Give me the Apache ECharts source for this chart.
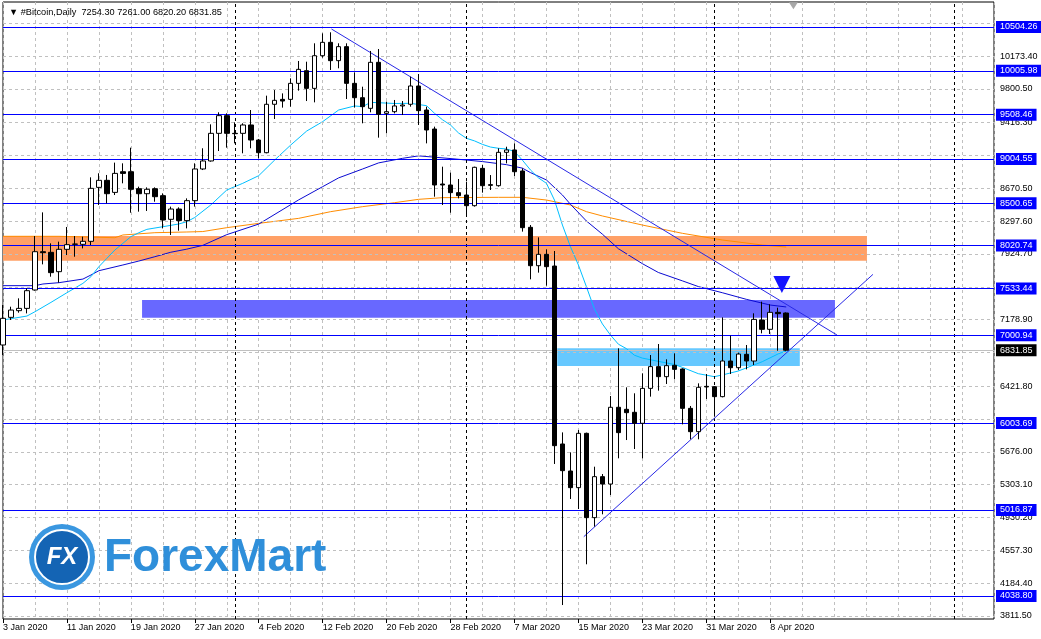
<!DOCTYPE html>
<html><head><meta charset="utf-8">
<script src="https://cdn.jsdelivr.net/npm/echarts@6/dist/echarts.min.js"></script>
<style>html,body{margin:0;padding:0;background:#fff;}#c{width:1041px;height:639px;}</style>
</head><body><div id="c"></div>
<script>
// ---- data ----
const MONTHS = ['Jan','Feb','Mar','Apr','May','Jun','Jul','Aug','Sep','Oct','Nov','Dec'];
const categories = [];
for (let k = 0; k < 125; k++) {
  const d = new Date(Date.UTC(2020, 0, 3 + k));
  categories.push(d.getUTCDate() + ' ' + MONTHS[d.getUTCMonth()] + ' ' + d.getUTCFullYear());
}
const openP  = [6891,7205,7281,7307,7516,7951,7944,7724,7978,8035,8035,8069,8682,8762,8625,8860,8860,8667,8610,8667,
  8588,8319,8436,8304,8531,8891,8982,9296,9497,9296,9296,9391,9220,9076,9626,9682,9682,9864,10008,9807,
  10178,10330,10122,10281,9864,9701,9580,10103,9523,9542,9607,9626,9834,9561,9345,8720,8709,8622,8595,8474,
  8898,8713,8701,9080,9107,8868,8228,7792,7921,7788,5766,5459,5270,5887,4929,5395,5311,6183,6160,6126,
  6001,6398,6645,6531,6660,6618,6171,5906,6421,6417,6304,6709,6633,6785,6709,7175,7069,7262,7254.30];
const highP  = [7345,7326,7421,7535,8129,8398,8046,8065,8232,8129,8122,8796,8842,8823,8963,8955,9133,8690,8682,8682,
  8614,8463,8455,8557,8955,9126,9398,9535,9523,9421,9410,9561,9232,9724,9788,9750,9921,10118,10110,10319,
  10432,10444,10319,10319,9989,9826,10232,10254,9656,9675,9663,9940,9970,9599,9372,8917,8849,8777,8747,8917,
  8936,8822,9126,9144,9182,8898,8254,8114,7978,7959,5898,5671,5925,5895,5508,5425,6311,6853,6410,6342,
  6569,6777,6902,6728,6796,6626,6198,6455,6561,6425,7205,6997,6804,6891,7251,7383,7353,7315,7261.00];
const lowP   = [6777,7175,7258,7250,7508,7807,7667,7599,7913,7894,7989,8027,8482,8501,8595,8728,8394,8406,8414,8519,
  8216,8141,8190,8216,8463,8879,8974,9095,9133,9182,9069,9126,9012,9069,9459,9588,9599,9781,9663,9648,
  10156,10016,10035,9686,9588,9410,9535,9247,9296,9523,9504,9599,9391,9182,8576,8482,8394,8557,8368,8463,
  8622,8652,8690,8955,8811,8179,7637,7713,7565,5539,3936,5141,5027,4399,4827,4967,5186,5603,5811,5709,
  5603,6304,6372,6448,6501,5989,5819,5819,6277,6076,6296,6561,6607,6614,6664,7023,7016,6826,6820.20];
const closeP = [7194,7288,7307,7508,7951,7940,7713,7978,8031,8038,8069,8671,8762,8610,8841,8841,8660,8610,8660,8576,
  8311,8436,8304,8531,8891,8982,9296,9497,9296,9292,9391,9220,9076,9626,9671,9663,9864,10023,9807,10178,
  10330,10122,10281,9864,9701,9599,10103,9512,9542,9607,9618,9834,9554,9334,8709,8709,8622,8588,8474,8910,
  8701,8705,9080,9107,8860,8224,7792,7921,7781,5747,5463,5270,5887,4929,5395,5311,6183,5895,6122,6001,
  6398,6645,6531,6656,6614,6171,5906,6410,6414,6304,6709,6633,6788,6709,7182,7069,7262,7247,6831.85];

// moving averages: [bar index, value]
const maFast = [[0,7175],[3,7220],[4,7269],[6,7375],[8,7485],[10,7591],[11,7667],[12,7781],[13,7876],[14,7970],
  [15,8046],[16,8122],[17,8167],[18,8205],[20,8235],[22,8266],[23,8292],[24,8340],[26,8482],[28,8652],[30,8728],
  [32,8815],[34,8993],[36,9163],[38,9322],[40,9429],[42,9561],[44,9607],[45,9599],[46,9648],[47,9644],[49,9635],
  [51,9637],[53,9610],[54,9523],[55,9450],[56,9390],[57,9300],[58,9239],[59,9210],[60,9170],[61,9140],[62,9126],
  [63,9118],[64,9090],[65,8990],[66,8880],[67,8790],[68,8728],[69,8538],[70,8254],[71,8008],[72,7800],[73,7553],
  [74,7300],[75,7130],[76,7005],[77,6900],[78,6850],[79,6775],[80,6742],[82,6705],[84,6670],[85,6637],[87,6565],
  [89,6531],[90,6550],[92,6595],[93,6630],[95,6701],[97,6790],[98,6823]];
const maMid = [[0,7565],[4,7565],[5,7584],[7,7599],[10,7640],[11,7686],[12,7735],[15,7800],[17,7845],[19,7894],
  [21,7945],[23,7980],[25,8023],[28,8145],[32,8265],[37,8540],[40,8690],[42,8790],[45,8891],[47,8960],[50,9012],
  [52,9040],[54,9025],[57,9001],[60,8975],[63,8940],[65,8900],[66,8850],[68,8766],[70,8595],[71,8490],[73,8300],
  [75,8150],[77,7985],[80,7815],[82,7715],[85,7620],[87,7555],[90,7485],[93,7410],[96,7345],[98,7323]];
const maSlow = [[0,8126],[7,8126],[14,8110],[15,8141],[19,8167],[23,8175],[25,8180],[28,8224],[32,8273],[37,8330],
  [41,8406],[45,8463],[49,8508],[52,8546],[55,8565],[62,8569],[65,8569],[68,8538],[71,8482],[73,8406],[75,8357],
  [80,8254],[85,8160],[90,8084],[95,8027],[98,8004]];

// horizontal levels
const levelLines = [10504.26,10005.98,9508.46,9004.55,8500.65,8020.74,7533.44,7000.94,6003.69,5016.87,4038.80];
const gridTicks  = [10173.40,9800.50,9416.30,8670.50,8297.60,7924.70,7178.90,6421.80,5676.00,5303.10,4930.20,4557.30,4184.40,3811.50];
const gridHidden = [10546.30,9043.40,7551.80,6806.00,6048.90];
const lastPrice  = 6831.85;
// zones: [startBar, endBar, upper, lower]
const zoneOrange = [0, 108.1, 8129.4, 7848.7];
const zonePurple = [17.4, 104.1, 7402.2, 7201.0];
const zoneSky    = [69.35, 99.7, 6853.4, 6652.2];
// trend lines: [[bar, price],[bar, price]]
const trendDown = [[41.1, 10481.6],[104.35, 7004.5]];
const trendUp   = [[72.67, 4712.5],[108.85, 7693.0]];
const monthSeparators = [29, 58, 89, 119];
const signalArrow = [97.46, 7578];
const shiftMark = [98.9, 10745];

// ---- chart ----
const FONT = "'Liberation Sans', sans-serif";
const candles = openP.map((o, i) => [o, closeP[i], lowP[i], highP[i]]);
const fmt = v => v.toFixed(2);
const labelEvery = (i) => i % 8 === 0 && i <= 96;

const chart = echarts.init(document.getElementById('c'), null, {renderer: 'canvas'});
chart.setOption({
  animation: false,
  backgroundColor: '#fff',
  title: {
    text: '\u25BC #Bitcoin,Daily  ' + [openP[98], highP[98], lowP[98], closeP[98]].map(fmt).join(' '),
    left: 4, top: 3,
    textStyle: {fontFamily: FONT, fontSize: 9.2, fontWeight: 'normal', color: '#000'}
  },
  grid: {left: 2, right: 47, top: 2, bottom: 20, show: true, borderColor: '#000', borderWidth: 1, backgroundColor: 'transparent'},
  xAxis: [{
    type: 'category', data: categories, boundaryGap: false,
    axisLine: {show: false},
    axisTick: {show: true, interval: labelEvery, length: 4, lineStyle: {color: '#000'}},
    axisLabel: {interval: labelEvery, align: 'left', margin: 4, fontFamily: FONT, fontSize: 9, color: '#000'},
    splitLine: {show: true, interval: (i) => i % 4 === 0, lineStyle: {color: '#c0c0c0', type: [3, 3], width: 1}}
  }, {
    type: 'value', min: 0, max: 124, show: false
  }],
  yAxis: {
    type: 'value', min: 3777.4, max: 10788.33, position: 'right', scale: true,
    axisLine: {show: false}, axisTick: {show: false}, axisLabel: {show: false}, splitLine: {show: false}
  },
  graphic: [
    {type: 'circle', shape: {cx: 62, cy: 557, r: 33}, style: {fill: '#3a97e0'}, z: 50},
    {type: 'circle', shape: {cx: 62, cy: 557, r: 27}, style: {fill: '#1464b4', stroke: '#ffffff', lineWidth: 2}, z: 51},
    {type: 'text', x: 62, y: 557, style: {text: 'FX', fill: '#fff', font: 'bold italic 24px "Liberation Sans"', align: 'center', verticalAlign: 'middle'}, z: 52},
    {type: 'text', x: 104, y: 558, style: {text: 'ForexMart', fill: '#2f8fda', font: 'bold 46px "Liberation Sans"', align: 'left', verticalAlign: 'middle'}, z: 52}
  ],
  series: [
    {
      name: 'zones', type: 'line', xAxisIndex: 1, data: [], z: 1, clip: false, silent: true,
      markArea: {
        silent: true,
        data: [
          [{xAxis: zoneOrange[0], yAxis: zoneOrange[2], itemStyle: {color: '#ffa066'}}, {xAxis: zoneOrange[1], yAxis: zoneOrange[3]}],
          [{xAxis: zonePurple[0], yAxis: zonePurple[2], itemStyle: {color: '#6868ff'}}, {xAxis: zonePurple[1], yAxis: zonePurple[3]}],
          [{xAxis: zoneSky[0], yAxis: zoneSky[2], itemStyle: {color: '#66c8ff'}}, {xAxis: zoneSky[1], yAxis: zoneSky[3]}]
        ]
      }
    },
    {
      name: 'grid', type: 'line', xAxisIndex: 1, data: [], z: 2, clip: false, silent: true,
      markLine: {
        silent: true, symbol: 'none',
        lineStyle: {color: '#c0c0c0', type: [3, 3], width: 1},
        label: {show: true, position: 'end', distance: 6, formatter: '{b}', fontFamily: FONT, fontSize: 9, color: '#000'},
        data: gridTicks.map(v => ({yAxis: v, name: fmt(v)}))
          .concat(gridHidden.map(v => ({yAxis: v, name: '', label: {show: false}})))
          .concat(monthSeparators.map(v => ({xAxis: v, name: '', label: {show: false}, lineStyle: {color: '#000', type: [3, 3], width: 1}})))
      }
    },
    {
      name: 'levels', type: 'line', xAxisIndex: 1, data: [], z: 3, clip: false, silent: true,
      markLine: {
        silent: true, symbol: 'none',
        lineStyle: {color: '#0000ff', type: 'solid', width: 1},
        label: {show: true, position: 'end', distance: 2, formatter: '{b}', fontFamily: FONT, fontSize: 9, color: '#fff',
          backgroundColor: '#0000ff', padding: [2, 4, 1, 4]},
        data: levelLines.map(v => ({yAxis: v, name: fmt(v)})).concat([
          {yAxis: lastPrice, name: fmt(lastPrice), lineStyle: {color: '#c0c0c0'}, label: {backgroundColor: '#000'}},
          [{coord: trendDown[0], name: ''}, {coord: trendDown[1]}],
          [{coord: trendUp[0], name: ''}, {coord: trendUp[1]}]
        ].map(d => Array.isArray(d) ? d.map((p, k) => k === 0 ? Object.assign(p, {label: {show: false}, lineStyle: {color: '#2828e6', width: 1}}) : p) : d))
      },
      markPoint: {
        silent: true,
        data: [
          {coord: signalArrow, symbol: 'triangle', symbolRotate: 180, symbolSize: [17, 17], itemStyle: {color: '#1414ff'}, label: {show: false}},
          {coord: shiftMark, symbol: 'triangle', symbolRotate: 180, symbolSize: [9, 7], itemStyle: {color: '#a8a8a8'}, label: {show: false}}
        ]
      }
    },
    {name: 'MA slow', type: 'line', data: maSlow, showSymbol: false, symbol: 'none', connectNulls: true, z: 4,
      lineStyle: {color: '#ff8c00', width: 1}},
    {name: 'MA mid', type: 'line', data: maMid, showSymbol: false, symbol: 'none', connectNulls: true, z: 4,
      lineStyle: {color: '#0a0ad2', width: 1}},
    {name: 'MA fast', type: 'line', data: maFast, showSymbol: false, symbol: 'none', connectNulls: true, z: 4,
      lineStyle: {color: '#00bfff', width: 1}},
    {
      name: 'Bitcoin', type: 'candlestick', data: candles, barWidth: 5, z: 10,
      itemStyle: {color: '#fff', color0: '#000', borderColor: '#000', borderColor0: '#000', borderColorDoji: '#000', borderWidth: 1}
    }
  ]
});
</script>
</body></html>
